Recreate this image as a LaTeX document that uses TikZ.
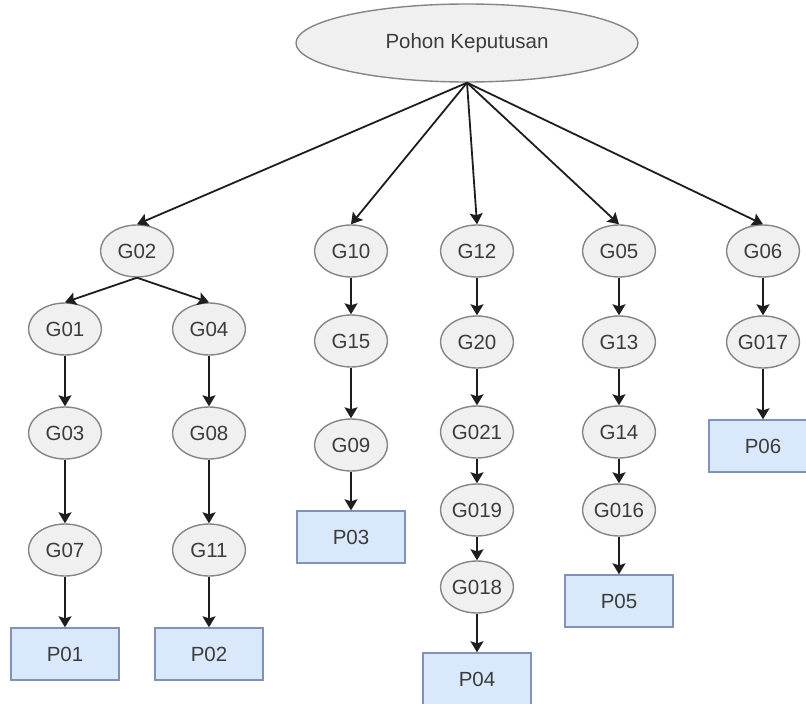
\documentclass[tikz,border=0pt]{standalone}
\usepackage{fontspec}
\setmainfont{Liberation Sans}
\usetikzlibrary{shapes.geometric,arrows.meta}
\definecolor{txt}{HTML}{3C3C3C}
\definecolor{ellfill}{HTML}{F0F0F0}
\definecolor{ellline}{HTML}{858585}
\definecolor{boxfill}{HTML}{DAE8FC}
\definecolor{boxline}{HTML}{7F93B5}
\definecolor{edge}{HTML}{1E1E1E}
\tikzset{
  gnode/.style={ellipse, draw=ellline, fill=ellfill, line width=1.4pt, minimum width=73pt, minimum height=52pt, inner sep=0pt, text=txt, font=\fontsize{20.5}{24}\selectfont},
  pnode/.style={rectangle, draw=boxline, fill=boxfill, line width=1.4pt, minimum width=108pt, minimum height=52pt, inner sep=0pt, text=txt, font=\fontsize{20.5}{24}\selectfont},
  rootnode/.style={ellipse, draw=ellline, fill=ellfill, line width=1.4pt, minimum width=342pt, minimum height=78pt, inner sep=0pt, text=txt, font=\fontsize{20.5}{24}\selectfont},
  conn/.style={draw=edge, line width=1.8pt, -{Stealth[length=11pt,width=13pt,inset=2pt]}}
}
\begin{document}
\begin{tikzpicture}[x=1pt,y=-1pt]
\useasboundingbox (0,0) rectangle (806,704);
\node[rootnode] (root) at (467,43) {Pohon Keputusan};
% column 1/2
\node[gnode] (g02) at (137,251) {G02};
\node[gnode] (g01) at (65,329) {G01};
\node[gnode] (g03) at (65,433) {G03};
\node[gnode] (g07) at (65,550) {G07};
\node[pnode] (p01) at (65,654) {P01};
\node[gnode] (g04) at (209,329) {G04};
\node[gnode] (g08) at (209,433) {G08};
\node[gnode] (g11) at (209,550) {G11};
\node[pnode] (p02) at (209,654) {P02};
% column 3
\node[gnode] (g10) at (351,251) {G10};
\node[gnode] (g15) at (351,341) {G15};
\node[gnode] (g09) at (351,445) {G09};
\node[pnode] (p03) at (351,537) {P03};
% column 4
\node[gnode] (g12) at (477,251) {G12};
\node[gnode] (g20) at (477,342) {G20};
\node[gnode] (g021) at (477,432) {G021};
\node[gnode] (g019) at (477,510) {G019};
\node[gnode] (g018) at (477,587) {G018};
\node[pnode] (p04) at (477,679) {P04};
% column 5
\node[gnode] (g05) at (619,251) {G05};
\node[gnode] (g13) at (619,342) {G13};
\node[gnode] (g14) at (619,432) {G14};
\node[gnode] (g016) at (619,510) {G016};
\node[pnode] (p05) at (619,601) {P05};
% column 6
\node[gnode] (g06) at (763,251) {G06};
\node[gnode] (g017) at (763,342) {G017};
\node[pnode] (p06) at (763,446) {P06};
% edges
\foreach \t in {g02,g10,g12,g05,g06}
  \draw[conn] (root.south) -- (\t.north);
\draw[conn] (g02.south) -- (g01.north);
\draw[conn] (g02.south) -- (g04.north);
\draw[conn] (g01) -- (g03);
\draw[conn] (g03) -- (g07);
\draw[conn] (g07) -- (p01);
\draw[conn] (g04) -- (g08);
\draw[conn] (g08) -- (g11);
\draw[conn] (g11) -- (p02);
\draw[conn] (g10) -- (g15);
\draw[conn] (g15) -- (g09);
\draw[conn] (g09) -- (p03);
\draw[conn] (g12) -- (g20);
\draw[conn] (g20) -- (g021);
\draw[conn] (g021) -- (g019);
\draw[conn] (g019) -- (g018);
\draw[conn] (g018) -- (p04);
\draw[conn] (g05) -- (g13);
\draw[conn] (g13) -- (g14);
\draw[conn] (g14) -- (g016);
\draw[conn] (g016) -- (p05);
\draw[conn] (g06) -- (g017);
\draw[conn] (g017) -- (p06);
\end{tikzpicture}
\end{document}
